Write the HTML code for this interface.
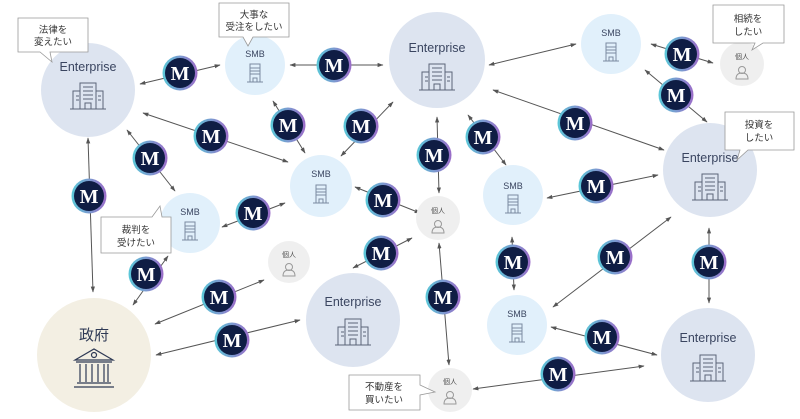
<!DOCTYPE html>
<html><head><meta charset="utf-8"><style>
html,body{margin:0;padding:0;background:#fff;}
svg{display:block;}
text{font-family:"Liberation Sans","Noto Sans CJK JP",sans-serif;}
text.mm{font-family:"Liberation Serif","DejaVu Serif",serif;font-weight:bold;}
</style></head><body>
<svg width="800" height="419" viewBox="0 0 800 419" xmlns="http://www.w3.org/2000/svg">
<defs>
<marker id="ah" viewBox="0 0 10 10" refX="9" refY="5" markerWidth="6" markerHeight="6" orient="auto-start-reverse"><path d="M0,1.5 L10,5 L0,8.5 z" fill="#555"/></marker>
<linearGradient id="ring" x1="0" y1="0" x2="1" y2="0"><stop offset="0" stop-color="#5ac8d8"/><stop offset="1" stop-color="#9b6cc8"/></linearGradient>
<g id="m"><circle r="17.5" fill="url(#ring)"/><circle r="15" fill="#0f1d44"/><text class="mm" y="7" text-anchor="middle" font-size="20" fill="#fff">M</text></g>
<g id="bld" fill="none" stroke="#5a6478" stroke-width="1"><rect x="-8" y="-13" width="16" height="26"/><rect x="-15" y="-5" width="7" height="18"/><rect x="8" y="-5" width="7" height="18"/><line x1="-18" y1="13" x2="18" y2="13"/><path d="M-5,-9h10M-5,-5h10M-5,-1h10M-5,3h10M-12,0h3M-12,4h3M10,0h3M10,4h3M-3,13v-6h6v6"/></g>
<g id="smb" fill="none" stroke="#7a8aa0" stroke-width="1"><rect x="-5" y="-9" width="10" height="18"/><path d="M-5,-5h10M-5,-2h10M-5,1h10M-8,9h16M-2,9v-4h4v4"/></g>
<g id="per" fill="none" stroke="#999" stroke-width="1"><circle cy="-3" r="3.5"/><path d="M-6,6 q0,-6 6,-6 q6,0 6,6 z"/></g>
</defs>

<g stroke="#555" stroke-width="1" marker-start="url(#ah)" marker-end="url(#ah)" fill="none">
<line x1="140" y1="84" x2="220" y2="65"/>
<line x1="290" y1="65" x2="383" y2="65"/>
<line x1="143" y1="113" x2="288" y2="162"/>
<line x1="127" y1="130" x2="175" y2="191"/>
<line x1="273" y1="101" x2="305" y2="153"/>
<line x1="341" y1="156" x2="393" y2="102"/>
<line x1="88" y1="138" x2="93" y2="292"/>
<line x1="489" y1="65" x2="576" y2="44"/>
<line x1="651" y1="44" x2="713" y2="63"/>
<line x1="645" y1="70" x2="707" y2="122"/>
<line x1="493" y1="90" x2="664" y2="150"/>
<line x1="437" y1="117" x2="439" y2="193"/>
<line x1="468" y1="115" x2="506" y2="165"/>
<line x1="547" y1="198" x2="658" y2="175"/>
<line x1="355" y1="187" x2="420" y2="213"/>
<line x1="222" y1="227" x2="285" y2="203"/>
<line x1="168" y1="256" x2="133" y2="305"/>
<line x1="155" y1="324" x2="264" y2="280"/>
<line x1="156" y1="355" x2="300" y2="320"/>
<line x1="353" y1="268" x2="412" y2="238"/>
<line x1="439" y1="243" x2="449" y2="365"/>
<line x1="512" y1="237" x2="514" y2="290"/>
<line x1="553" y1="307" x2="671" y2="217"/>
<line x1="709" y1="228" x2="709" y2="303"/>
<line x1="551" y1="327" x2="657" y2="355"/>
<line x1="473" y1="389" x2="644" y2="366"/>
</g>

<g font-size="12.5" fill="#3a4560" text-anchor="middle">
<circle cx="88" cy="90" r="47" fill="#dde4f0"/><text x="88" y="71">Enterprise</text><use href="#bld" x="88" y="96"/>
<circle cx="437" cy="60" r="48" fill="#dde4f0"/><text x="437" y="52">Enterprise</text><use href="#bld" x="437" y="77"/>
<circle cx="710" cy="170" r="47" fill="#dde4f0"/><text x="710" y="162">Enterprise</text><use href="#bld" x="710" y="187"/>
<circle cx="353" cy="320" r="47" fill="#dde4f0"/><text x="353" y="306">Enterprise</text><use href="#bld" x="353" y="332"/>
<circle cx="708" cy="355" r="47" fill="#dde4f0"/><text x="708" y="342">Enterprise</text><use href="#bld" x="708" y="368"/>
</g>
<g font-size="9" fill="#3a4560" text-anchor="middle">
<circle cx="255" cy="65" r="30" fill="#e1f0fb"/><text x="255" y="57">SMB</text><use href="#smb" x="255" y="73"/>
<circle cx="611" cy="44" r="30" fill="#e1f0fb"/><text x="611" y="36">SMB</text><use href="#smb" x="611" y="52"/>
<circle cx="321" cy="186" r="31" fill="#e1f0fb"/><text x="321" y="177">SMB</text><use href="#smb" x="321" y="194"/>
<circle cx="190" cy="223" r="30" fill="#e1f0fb"/><text x="190" y="215">SMB</text><use href="#smb" x="190" y="231"/>
<circle cx="513" cy="195" r="30" fill="#e1f0fb"/><text x="513" y="189">SMB</text><use href="#smb" x="513" y="204"/>
<circle cx="517" cy="325" r="30" fill="#e1f0fb"/><text x="517" y="317">SMB</text><use href="#smb" x="517" y="333"/>
</g>
<g font-size="7" fill="#555" text-anchor="middle">
<circle cx="742" cy="64" r="22" fill="#efefef"/><text x="742" y="59">個人</text><use href="#per" x="742" y="73"/>
<circle cx="438" cy="218" r="22" fill="#efefef"/><text x="438" y="213">個人</text><use href="#per" x="438" y="227"/>
<circle cx="289" cy="262" r="21" fill="#efefef"/><text x="289" y="257">個人</text><use href="#per" x="289" y="270"/>
<circle cx="450" cy="390" r="22" fill="#efefef"/><text x="450" y="384">個人</text><use href="#per" x="450" y="398"/>
</g>
<circle cx="94" cy="355" r="57" fill="#f3efe3"/>
<text x="94" y="340" text-anchor="middle" font-size="15" fill="#2f3a55">政府</text>
<g fill="none" stroke="#2f3a55" stroke-width="1.2">
<path d="M75,360 L94,349 L113,360 Z"/><circle cx="94" cy="355" r="2.5"/>
<path d="M76,362h36M80,364v18M86,364v18M92,364v18M98,364v18M104,364v18M108,364v18M77,383h34M74,387h40"/>
</g>

<g fill="#fff" stroke="#999" stroke-width="0.8">
<path d="M18,18 H88 V52 H50 L52,62 L40,52 H18 Z"/>
<path d="M219,3 H289 V37 H253 L248,46 L243,37 H219 Z"/>
<path d="M713,5 H784 V43 H763 L752,50 L755,43 H713 Z"/>
<path d="M725,112 H794 V150 H748 L737,160 L740,150 H725 Z"/>
<path d="M101,217 H152 L160,206 L162,217 H171 V253 H101 Z"/>
<path d="M349,375 H420 V385 L435,392 L420,395 V410 H349 Z"/>
</g>
<g font-size="9.5" fill="#333" text-anchor="middle">
<text x="53" y="33">法律を</text><text x="53" y="45">変えたい</text>
<text x="254" y="18">大事な</text><text x="254" y="30">受注をしたい</text>
<text x="748" y="22">相続を</text><text x="748" y="35">したい</text>
<text x="759" y="128">投資を</text><text x="759" y="141">したい</text>
<text x="136" y="233">裁判を</text><text x="136" y="246">受けたい</text>
<text x="384" y="390">不動産を</text><text x="384" y="403">買いたい</text>
</g>

<use href="#m" x="180" y="73"/><use href="#m" x="334" y="65"/><use href="#m" x="150" y="158"/>
<use href="#m" x="288" y="125"/><use href="#m" x="211" y="136"/><use href="#m" x="361" y="126"/>
<use href="#m" x="434" y="155"/><use href="#m" x="483" y="137"/><use href="#m" x="575" y="123"/>
<use href="#m" x="682" y="54"/><use href="#m" x="676" y="95"/><use href="#m" x="596" y="186"/>
<use href="#m" x="89" y="196"/><use href="#m" x="253" y="213"/><use href="#m" x="383" y="200"/>
<use href="#m" x="146" y="274"/><use href="#m" x="219" y="297"/><use href="#m" x="232" y="340"/>
<use href="#m" x="381" y="253"/><use href="#m" x="443" y="297"/><use href="#m" x="513" y="262"/>
<use href="#m" x="615" y="257"/><use href="#m" x="709" y="262"/><use href="#m" x="602" y="337"/>
<use href="#m" x="558" y="374"/>
</svg>
</body></html>
